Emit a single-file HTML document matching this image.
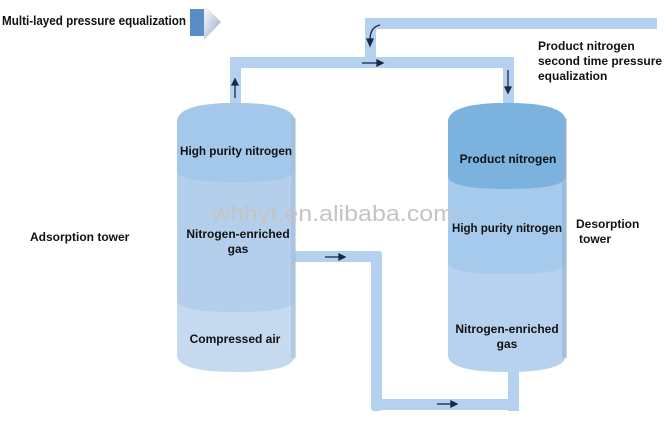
<!DOCTYPE html>
<html><head><style>
body{margin:0;background:#fff;}
svg text{font-family:"Liberation Sans",sans-serif;font-weight:bold;fill:#111;}
</style></head><body>
<svg width="665" height="425" viewBox="0 0 665 425" xmlns="http://www.w3.org/2000/svg">
<defs>
<linearGradient id="arr" x1="0" y1="0" x2="1" y2="1"><stop offset="0" stop-color="#fff"/><stop offset="1" stop-color="#8fa8c8"/></linearGradient>
</defs>
<!-- legend -->
<text x="2" y="25" font-size="12.5" textLength="184" lengthAdjust="spacingAndGlyphs">Multi-layed pressure equalization</text>
<rect x="190" y="9" width="14" height="27" fill="#5a8cc8"/>
<polygon points="204,5 221,22 204,40" fill="url(#arr)"/>
<!-- pipes -->
<g fill="#b4d2ef">
<rect x="365" y="18" width="292" height="11"/>
<rect x="365" y="18" width="11" height="44" rx="3"/>
<rect x="230" y="57" width="284" height="11" rx="4"/>
<rect x="230" y="57" width="11" height="50"/>
<rect x="503" y="57" width="11" height="50"/>
<rect x="290" y="251" width="92" height="11" rx="3"/>
<rect x="371" y="251" width="11" height="160" rx="3"/>
<rect x="371" y="399" width="148" height="11" rx="3"/>
<rect x="508" y="360" width="11" height="51"/>
</g>
<!-- left tank -->
<path d="M177,372 L177,122 Q177,103 236,103 Q295,103 295,122 L295,355 Q295,372 236,372 Q177,372 177,355Z" fill="#c5d9ef"/>
<path d="M177,300 L177,122 Q177,103 236,103 Q295,103 295,122 L295,300 Q295,312 236,312 Q177,312 177,300Z" fill="#b3cfec"/>
<path d="M177,170 L177,122 Q177,103 236,103 Q295,103 295,122 L295,170 Q295,182 236,182 Q177,182 177,170Z" fill="#a4c8ea"/>
<rect x="291" y="118" width="5" height="240" fill="#9fb9d4" opacity="0.5"/>
<!-- right tank -->
<path d="M448,372 L448,122 Q448,103 507,103 Q566,103 566,122 L566,355 Q566,372 507,372 Q448,372 448,355Z" fill="#b7d2ee"/>
<path d="M448,262 L448,122 Q448,103 507,103 Q566,103 566,122 L566,262 Q566,274 507,274 Q448,274 448,262Z" fill="#a5caeb"/>
<path d="M448,176 L448,122 Q448,103 507,103 Q566,103 566,122 L566,176 Q566,189 507,189 Q448,189 448,176Z" fill="#7bb3de"/>
<rect x="562" y="118" width="5" height="240" fill="#8fb0d0" opacity="0.5"/>
<!-- arrows -->
<g stroke="#1a2a40" stroke-width="1.3" fill="#1a2a40">
<line x1="235" y1="98" x2="235" y2="84"/><polygon points="232,85 238,85 235,79"/>
<line x1="508" y1="70" x2="508" y2="88"/><polygon points="505,87 511,87 508,93"/>
<line x1="362" y1="63" x2="378" y2="63"/><polygon points="377,60 377,66 383,63"/>
<line x1="325" y1="257" x2="340" y2="257"/><polygon points="339,254 339,260 345,257"/>
<line x1="437" y1="404" x2="452" y2="404"/><polygon points="451,401 451,407 457,404"/>
<path d="M380,25 Q370,27 370,40" fill="none"/><polygon points="367,39 373,39 370,46"/>
</g>
<!-- labels -->
<g font-size="12" text-anchor="middle">
<text x="236" y="155" textLength="112" lengthAdjust="spacingAndGlyphs">High purity nitrogen</text>
<text x="238" y="238">Nitrogen-enriched</text>
<text x="238" y="253">gas</text>
<text x="235" y="343">Compressed air</text>
<text x="508" y="163">Product nitrogen</text>
<text x="507" y="232" textLength="110" lengthAdjust="spacingAndGlyphs">High purity nitrogen</text>
<text x="507" y="333">Nitrogen-enriched</text>
<text x="507" y="348">gas</text>
</g>
<g font-size="12">
<text x="30" y="241">Adsorption tower</text>
<text x="576" y="228">Desorption</text>
<text x="579" y="243">tower</text>
<text x="538" y="50">Product nitrogen</text>
<text x="538" y="65">second time pressure</text>
<text x="538" y="80">equalization</text>
</g>
<text x="212" y="221" font-size="22" fill="#c8c8c8" style="font-weight:normal;fill:#c4c4c4" textLength="242" lengthAdjust="spacingAndGlyphs">whhyt.en.alibaba.com</text>
</svg>
</body></html>
